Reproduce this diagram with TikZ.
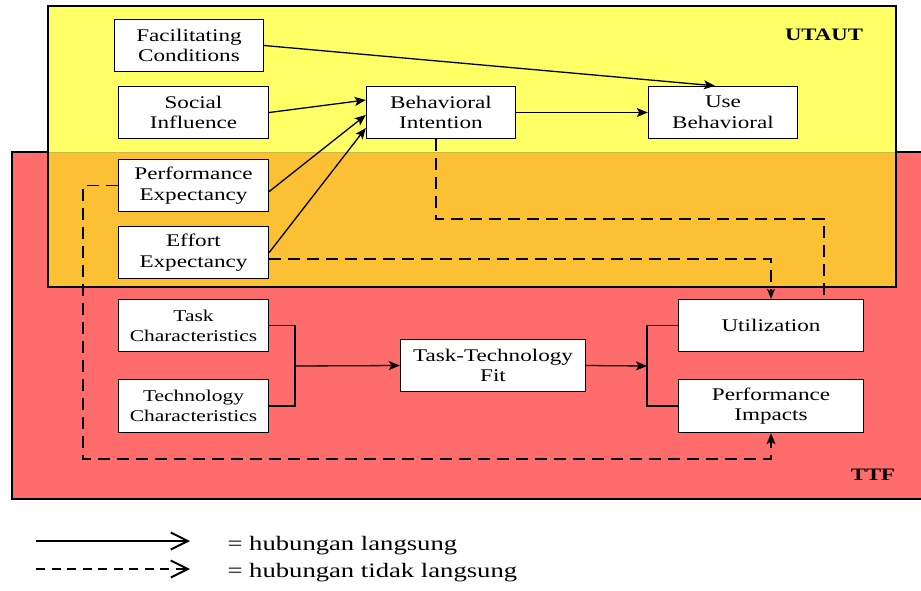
\documentclass[tikz,border=0pt]{standalone}
\usepackage{fontspec}
\setmainfont{Liberation Serif}[FakeStretch=1.3]
\usetikzlibrary{arrows.meta}
\definecolor{utautyellow}{RGB}{255,255,102}
\definecolor{ttfred}{RGB}{255,108,108}
\definecolor{overlaporange}{RGB}{251,192,52}
\definecolor{edgeolive}{RGB}{196,186,70}
\begin{document}
\begin{tikzpicture}[x=1pt,y=-1pt,
  box/.style={draw, fill=white, line width=1.4pt, inner sep=0pt, align=center,
    font=\fontsize{17.8}{20.5}\selectfont},
  smallbox/.style={box, font=\fontsize{16.5}{20}\selectfont},
  link/.style={line width=1.3pt},
  tip/.style={-{Stealth[length=11pt,width=9pt,inset=2.5pt]}},
  arrowlink/.style={link, tip},
  dashlink/.style={link, dash pattern=on 12pt off 7pt},
  region/.style={line width=1.5pt},
  modellabel/.style={font=\bfseries\fontsize{17.5}{20}\selectfont},
  legendtext/.style={anchor=base west, font=\fontsize{20.5}{24}\selectfont},
  legendtip/.style={-{Straight Barb[length=17pt,width=17pt,line width=2pt]}}
]
\clip (0,0) rectangle (921,590);
\fill[white] (0,0) rectangle (921,590);

% model regions: TTF (red), UTAUT (yellow) and their overlap
\filldraw[fill=ttfred, region] (12,152) rectangle (930,499);
\fill[utautyellow] (48,6) rectangle (896,287);
\fill[overlaporange] (48,152) rectangle (896,287);
\draw[edgeolive, line width=0.8pt] (48,152) -- (896,152);
\draw[region] (48,6) rectangle (896,287);

\node[modellabel] (utautlabel) at (824,35) {UTAUT};
\node[modellabel] (ttflabel) at (873,475) {TTF};

% UTAUT constructs
\node[box, minimum width=149pt, minimum height=52pt] (fc) at (189,45.5) {Facilitating\\Conditions};
\node[box, minimum width=150pt, minimum height=52pt] (si) at (193.5,112.5) {Social\\Influence};
\node[box, minimum width=150pt, minimum height=52pt] (pe) at (193.5,185.5) {Performance\\Expectancy};
\node[box, minimum width=150pt, minimum height=52pt] (ee) at (193.5,252.5) {Effort\\Expectancy};
\node[box, minimum width=149pt, minimum height=52pt] (bi) at (441,112.5) {Behavioral\\Intention};
\node[box, minimum width=149pt, minimum height=52pt] (ub) at (723,112.5) {Use\\Behavioral};

% TTF constructs
\node[smallbox, minimum width=150pt, minimum height=52pt] (tc) at (193.5,325.5) {Task\\Characteristics};
\node[smallbox, minimum width=150pt, minimum height=53pt] (tec) at (193.5,406) {Technology\\Characteristics};
\node[box, minimum width=185pt, minimum height=52pt] (ttf) at (493,365.5) {Task-Technology\\Fit};
\node[box, minimum width=185pt, minimum height=52pt] (ut) at (771,325.5) {Utilization};
\node[box, minimum width=185pt, minimum height=53pt] (pi) at (771,406) {Performance\\Impacts};

% direct relations
\draw[arrowlink] (fc.east) -- ([xshift=-8pt]ub.north);
\draw[arrowlink] (si.east) -- ([yshift=12.5pt]bi.west);
\draw[arrowlink] ([yshift=-6pt]pe.east) -- ([yshift=-2.5pt]bi.west);
\draw[arrowlink] (ee.east) -- ([yshift=-15.5pt]bi.west);
\draw[arrowlink] (bi.east) -- (ub.west);

\coordinate (j1) at (295,366);
\draw[link] (tc.east) -| (j1) |- (tec.east);
\draw[arrowlink] (j1) -- (ttf.west);

\coordinate (j2) at (647,366);
\draw[link] (ut.west) -| (j2) |- (pi.west);
\draw[arrowlink] (ttf.east) -- (j2);

% indirect relations
\coordinate (d1) at (83,459);
\draw[dashlink, tip] (pe.west) -| (d1) -| (pi.south);
\draw[dashlink, -{Stealth[length=10pt,width=8pt,inset=2.5pt]}] ([yshift=-6.5pt]ee.east) -| (ut.north);
\coordinate (d2) at (824,219);
\draw[dashlink] ([xshift=-5pt]bi.south) |- (d2) -- (d2 |- ut.north);

% legend
\coordinate (la1) at (36,541);
\coordinate (la2) at (190,541);
\coordinate (lb1) at (36,569);
\coordinate (lb2) at (190,569);
\draw[line width=1.5pt, legendtip] (la1) -- (la2);
\draw[line width=1.5pt, dash pattern=on 9pt off 6.5pt, legendtip] (lb1) -- (lb2);
\node[legendtext] (lt1) at (224,550) {= hubungan langsung};
\node[legendtext] (lt2) at (224,577) {= hubungan tidak langsung};
\end{tikzpicture}
\end{document}
